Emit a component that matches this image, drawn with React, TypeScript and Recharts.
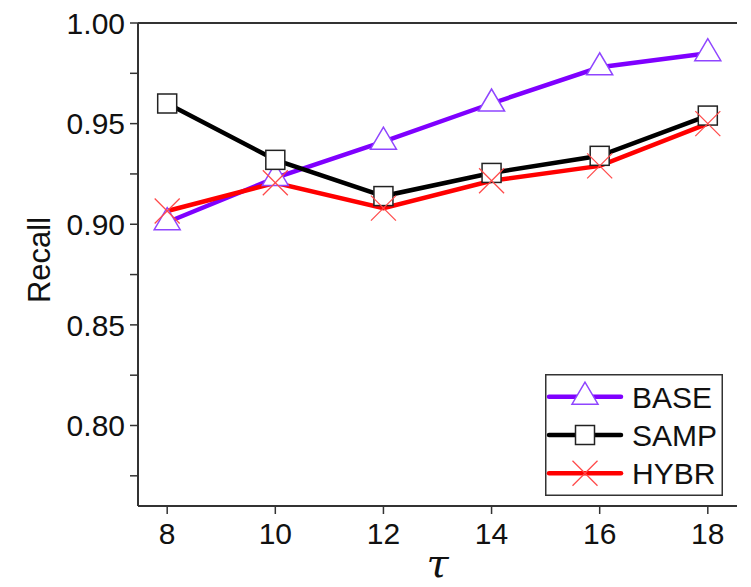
import {Legend, Line, LineChart, ReferenceLine, XAxis, YAxis} from "recharts";

const tau = [8, 10, 12, 14, 16, 18];
const base = [0.901, 0.923, 0.941, 0.960, 0.978, 0.985];
const samp = [0.960, 0.932, 0.914, 0.9255, 0.934, 0.954];
const hybr = [0.9066, 0.9206, 0.908, 0.9216, 0.929, 0.950];
const seriesNames = ["BASE", "SAMP", "HYBR"];
const yTicks = [0.775, 0.8, 0.825, 0.85, 0.875, 0.9, 0.925, 0.95, 0.975, 1.0];
const xTicks = [8, 10, 12, 14, 16, 18];

const rows = tau.map((t, i) => ({tau: t, BASE: base[i], SAMP: samp[i], HYBR: hybr[i]}));

const FONT = "'Liberation Sans', Arial, sans-serif";
const AXIS = "#333";
const PURPLE = "#7f00ff";

function Triangle({cx, cy}: any) {
  if (cx == null || cy == null) return null;
  return (
    <polygon
      points={`${cx},${cy - 14.5} ${cx - 13},${cy + 7.5} ${cx + 13},${cy + 7.5}`}
      fill="#fff" stroke="#8f45ff" strokeWidth={1.5}
    />
  );
}

function Square({cx, cy}: any) {
  if (cx == null || cy == null) return null;
  return <rect x={cx - 9.5} y={cy - 9.5} width={19} height={19} fill="#fff" stroke="#222" strokeWidth={1.5}/>;
}

function Cross({cx, cy}: any) {
  if (cx == null || cy == null) return null;
  const r = 12.5;
  return (
    <g stroke="#ff4848" strokeWidth={1.3}>
      <line x1={cx - r} y1={cy - r} x2={cx + r} y2={cy + r}/>
      <line x1={cx - r} y1={cy + r} x2={cx + r} y2={cy - r}/>
    </g>
  );
}

const markers = [Triangle, Square, Cross];
const colors = [PURPLE, "#000", "#ff0000"];

function LegendBox() {
  return (
    <svg width={178} height={122} style={{display: "block"}}>
      <rect x={0.75} y={0.75} width={176.5} height={120.5} fill="#fff" stroke={AXIS} strokeWidth={1.5}/>
      {seriesNames.map((name, i) => {
        const y = 22.7 + i * 38.3;
        const M = markers[i];
        return (
          <g key={name}>
            <line x1={4} y1={y} x2={76} y2={y} stroke={colors[i]} strokeWidth={4.5} strokeLinecap="round"/>
            <M cx={40} cy={y}/>
            <text x={87} y={y} dy="0.36em" fontSize={30} fontFamily={FONT} fill="#111">{name}</text>
          </g>
        );
      })}
    </svg>
  );
}

const yFmt = (v: number) => (Math.abs(v * 20 - Math.round(v * 20)) < 1e-6 ? v.toFixed(2) : "");

export default function App() {
  return (
    <div style={{position: "absolute", left: 0, top: 0}}>
      <LineChart width={751} height={587} data={rows} margin={{top: 23, right: 14, bottom: 0, left: 68}}>
        <XAxis
          dataKey="tau" type="number" domain={[7.46, 18.54]} ticks={xTicks} interval={0}
          height={81} tickSize={8} tickMargin={9}
          axisLine={{stroke: AXIS, strokeWidth: 2}} tickLine={{stroke: AXIS, strokeWidth: 1.5}}
          tick={{fontSize: 30, fill: "#111", fontFamily: FONT}}
          label={({viewBox}: any) => (
            <text x={viewBox.x + viewBox.width / 2} y={viewBox.y + 71} textAnchor="middle"
                  fontSize={40} fontStyle="italic" fontFamily="'DejaVu Serif', serif" fill="#111">τ</text>
          )}
        />
        <YAxis
          yAxisId="l" domain={[0.76, 1]} ticks={yTicks} interval={0} width={70}
          tickSize={8} tickMargin={5} tickFormatter={yFmt}
          axisLine={{stroke: AXIS, strokeWidth: 2}} tickLine={{stroke: AXIS, strokeWidth: 1.5}}
          tick={{fontSize: 30, fill: "#111", fontFamily: FONT}}
          label={({viewBox}: any) => {
            const x = viewBox.x - 18;
            const y = 260;
            return (
              <text x={x} y={y} transform={`rotate(-90 ${x} ${y})`} textAnchor="middle"
                    fontSize={31} fontFamily={FONT} fill="#111">Recall</text>
            );
          }}
        />
        <YAxis
          yAxisId="r" orientation="right" mirror domain={[0.76, 1]} ticks={yTicks} interval={0} width={0}
          tickSize={5} tick={false}
          axisLine={{stroke: AXIS, strokeWidth: 2}} tickLine={{stroke: AXIS, strokeWidth: 1.5}}
        />
        <ReferenceLine yAxisId="l" y={1} stroke={AXIS} strokeWidth={2}/>
        <Line yAxisId="l" dataKey="BASE" stroke={PURPLE} strokeWidth={4.5} dot={(p: any) => <Triangle key={`b${p.index}`} {...p}/>} isAnimationActive={false}/>
        <Line yAxisId="l" dataKey="SAMP" stroke="#000" strokeWidth={4.5} dot={(p: any) => <Square key={`s${p.index}`} {...p}/>} isAnimationActive={false}/>
        <Line yAxisId="l" dataKey="HYBR" stroke="#ff0000" strokeWidth={4.5} dot={(p: any) => <Cross key={`h${p.index}`} {...p}/>} isAnimationActive={false}/>
        <Legend
          layout="vertical" align="center" verticalAlign="middle"
          content={() => <LegendBox/>}
          wrapperStyle={{position: "absolute", left: 545, top: 374, width: 178, height: 122}}
        />
      </LineChart>
    </div>
  );
}
